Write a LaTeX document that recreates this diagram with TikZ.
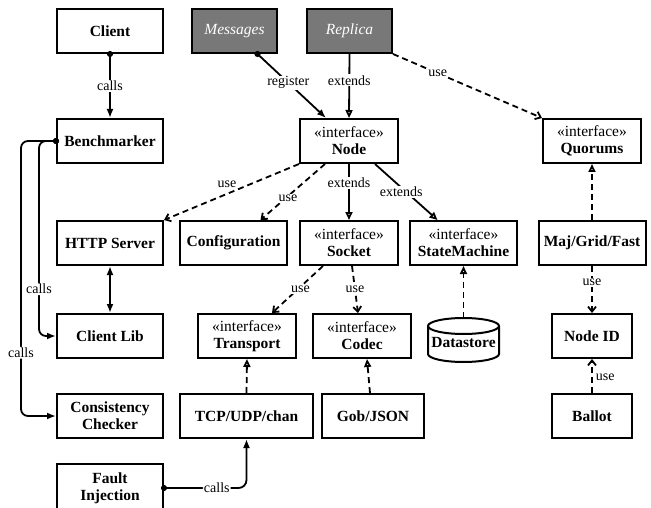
\documentclass[tikz,border=0pt]{standalone}
\usepackage{fontspec}
\setmainfont{Liberation Serif}
\usetikzlibrary{arrows.meta,calc}

\definecolor{absgray}{HTML}{787878}

\tikzset{
  box/.style={draw,line width=2pt,minimum height=44pt,inner sep=2pt,align=center,
    font=\fontsize{15.5}{17}\selectfont\bfseries},
  ibox/.style={box,font=\fontsize{15.5}{17}\selectfont},
  absbox/.style={box,fill=absgray,text=white,font=\fontsize{15.5}{17}\selectfont\itshape},
  lbl/.style={font=\fontsize{14}{16}\selectfont,fill=white,inner sep=1pt},
  link/.style={line width=1.8pt},
  calls/.style={link,{Circle[length=6pt]}-{Latex[length=9pt,width=7pt]},shorten <=-3pt},
  both/.style={link,{Latex[length=9pt,width=7pt]}-{Latex[length=9pt,width=7pt]}},
  extends/.style={link,-{Triangle[open,length=8pt,width=7pt]}},
  usearrow/.style={link,dash pattern=on 6pt off 4pt,-{Straight Barb[length=5pt,width=8pt]}},
  realize/.style={link,dash pattern=on 6pt off 4pt,-{Triangle[open,length=8pt,width=7pt]}}
}

\begin{document}
\begin{tikzpicture}[x=1pt,y=-1pt]
\useasboundingbox (0,0) rectangle (651,508);

% ---- top row: client and the abstract types ----
\node[box,minimum width=106pt] (Client) at (110,31) {Client};
\node[absbox,minimum width=85pt] (Messages) at (234.5,31) {Messages};
\node[absbox,minimum width=85pt] (Replica) at (349.5,31) {Replica};

% ---- the interfaces ----
\foreach \name/\x/\y/\w/\txt in {Node/349/141/98/Node,Quorums/592/141/98/Quorums,
    Socket/349/243/98/Socket,StateMachine/463.5/243/107/StateMachine,
    Transport/247/336/98/Transport,Codec/362/336/98/Codec}{
  \node[ibox,minimum width=\w pt] (\name) at (\x,\y) {«interface»\\\textbf{\txt}};}

% ---- concrete parts ----
\node[box,minimum width=106pt] (Benchmarker) at (110,141) {Benchmarker};
\node[box,minimum width=106pt] (HTTP) at (110,243) {HTTP Server};
\node[box,minimum width=107pt] (Config) at (233.5,243) {Configuration};
\node[box,minimum width=107pt] (Maj) at (592,243) {Maj/Grid/Fast};
\node[box,minimum width=106pt] (ClientLib) at (110,336) {Client Lib};
\node[box,minimum width=80pt] (NodeID) at (592,336) {Node ID};
\node[box,minimum width=106pt] (Consistency) at (110,416) {Consistency\\Checker};
\node[box,minimum width=133pt] (TCP) at (246.5,416) {TCP/UDP/chan};
\node[box,minimum width=102pt] (Gob) at (373,416) {Gob/JSON};
\node[box,minimum width=80pt] (Ballot) at (592,416) {Ballot};
\node[box,minimum width=106pt,minimum height=48pt] (Fault) at (110,488) {Fault\\Injection};

% ---- the datastore cylinder (drawn round its text node) ----
\node[font=\fontsize{15.5}{17}\selectfont\bfseries,inner sep=1pt] (Datastore) at (463.5,343) {Datastore};
\draw[line width=2pt] ($(Datastore.center)+(0,-17)$) ellipse [x radius=35.5pt,y radius=8pt];
\draw[line width=2pt] ($(Datastore.center)+(-35.5,-17)$) -- ++(0,28)
  arc [start angle=180,end angle=360,x radius=35.5pt,y radius=8pt] -- ++(0,-28);
\coordinate (dstop) at ($(Datastore.center)+(0,-25)$);

% ---- calls ----
\draw[calls] (Client.south) -- node[lbl]{calls} (Benchmarker.north);
\draw[calls] (Messages.-45) -- node[lbl,pos=0.45]{register} (Node.135);
\draw[calls,rounded corners=7pt] (Benchmarker.west) -- ++(-17,0)
  |- node[lbl,pos=0.38]{calls} (ClientLib.west);
\draw[calls,rounded corners=7pt] (Benchmarker.west) -- ++(-35,0)
  |- node[lbl,pos=0.385]{calls} (Consistency.west);
\draw[calls,rounded corners=8pt] (Fault.east) -| node[lbl,pos=0.32]{calls} (TCP.south);
\draw[both] (HTTP.south) -- (ClientLib.north);

% ---- extends ----
\draw[extends] (Replica.south) -- node[lbl,pos=0.41]{extends} (Node.north);
\draw[extends] (Node.south) -- node[lbl,pos=0.34]{extends} (Socket.north);
\draw[extends] ([xshift=26pt]Node.south) -- node[lbl,pos=0.5,xshift=-5pt]{extends}
  ([xshift=-26pt]StateMachine.north);

% ---- use ----
\draw[usearrow] (Replica.south east) -- node[lbl,pos=0.3]{use} (Quorums.north west);
\draw[usearrow] (Node.south west) -- node[lbl,pos=0.45,above left=0pt,fill=none]{use} (HTTP.north east);
\draw[usearrow] ([xshift=-24pt]Node.south) -- node[lbl,pos=0.62,xshift=3pt]{use}
  ([xshift=27pt]Config.north);
\draw[usearrow] ([xshift=-26pt]Socket.south) -- node[lbl,pos=0.5,xshift=3pt]{use}
  ([xshift=25pt]Transport.north);
\draw[usearrow] ([xshift=3pt]Socket.south) -- node[lbl,pos=0.5]{use} ([xshift=-4pt]Codec.north);
\draw[usearrow] (Maj.south) -- node[lbl,pos=0.35]{use} (NodeID.north);
\draw[usearrow] (Ballot.north) -- node[lbl,pos=0.45,right=2pt,fill=none]{use} (NodeID.south);

% ---- realizations ----
\draw[realize] (Maj.north) -- (Quorums.south);
\draw[realize] (dstop) -- (StateMachine.south);
\draw[realize] (TCP.north) -- (Transport.south);
\draw[realize] ([xshift=-3pt]Gob.north) -- ([xshift=5pt]Codec.south);

\end{tikzpicture}
\end{document}
